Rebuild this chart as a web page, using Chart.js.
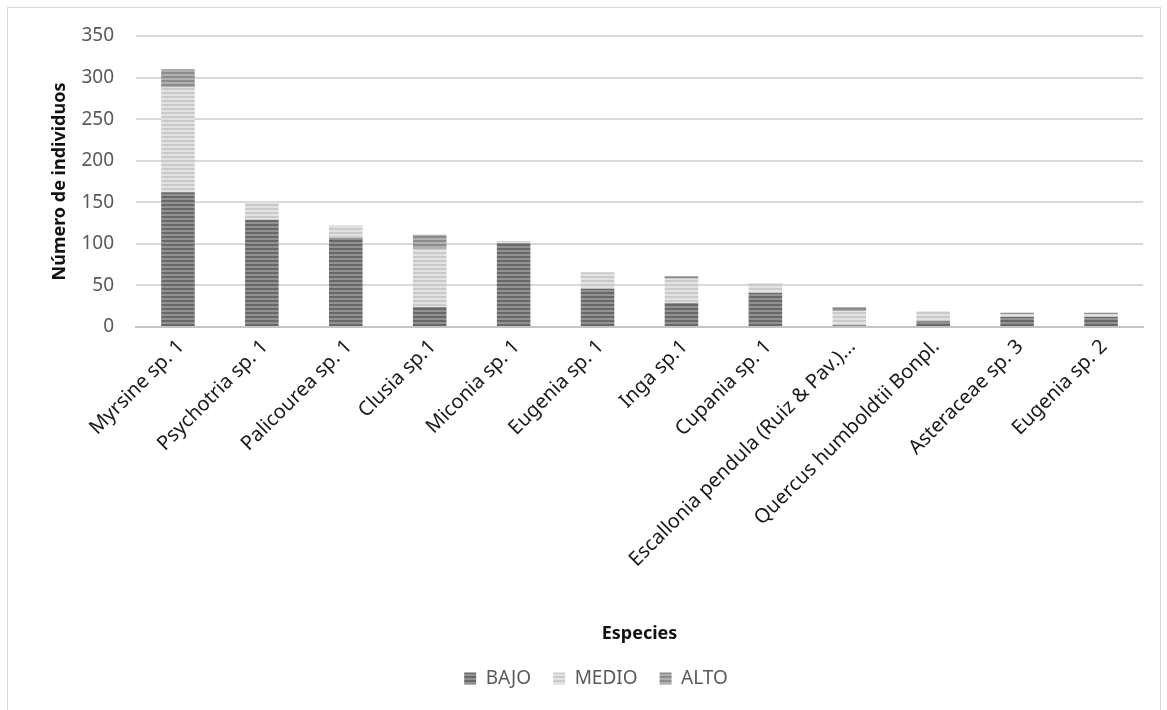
<!DOCTYPE html>
<html>
<head>
<meta charset="utf-8">
<script src="https://cdn.jsdelivr.net/npm/chart.js@4/dist/chart.umd.min.js"></script>
<style>
    html, body { margin: 0; padding: 0; background: #fff; overflow: hidden; }
    #frame { position: absolute; left: 7px; top: 7px; width: 1152px; height: 720px; border: 1px solid #d9d9d9; }
    #wrap { position: absolute; left: 0; top: 0; width: 1167px; height: 710px; }
</style>
</head>
<body>
<div id="frame"></div>
<div id="wrap"><canvas id="myChart" width="1167" height="710"></canvas></div>
<script>
// Species (x axis categories)
const categories = [
    "Myrsine sp. 1", "Psychotria sp. 1", "Palicourea sp. 1", "Clusia sp.1",
    "Miconia sp. 1", "Eugenia sp. 1", "Inga sp.1", "Cupania sp. 1",
    "Escallonia pendula (Ruiz & Pav.)...", "Quercus humboldtii Bonpl.",
    "Asteraceae sp. 3", "Eugenia sp. 2"
];
// Individuals per stratum
const bajo  = [162, 129, 107, 24, 101, 46, 29, 41, 2, 7, 12, 12];
const medio = [126, 21, 15, 70, 2, 20, 29, 12, 17, 12, 3, 3];
const alto  = [22, 0, 0, 17, 0, 0, 3, 0, 5, 0, 2, 2];
const seriesNames = ["BAJO", "MEDIO", "ALTO"];
const yTicks = [0, 50, 100, 150, 200, 250, 300, 350];

const FONT = "'Noto Sans', sans-serif";

// horizontal striped fill, like the original's pattern bars
function stripes(c1, c2) {
    const p = document.createElement("canvas");
    p.width = 4; p.height = 4;
    const g = p.getContext("2d");
    g.fillStyle = c1; g.fillRect(0, 0, 4, 4);
    g.fillStyle = c2; g.fillRect(0, 2, 4, 2);
    return g.createPattern(p, "repeat");
}
const fillBajo = stripes("#686868", "#929292");
const fillMedio = stripes("#cacaca", "#e2e2e2");
const fillAlto = stripes("#8c8c8c", "#b0b0b0");

const ctx = document.getElementById("myChart").getContext("2d");
const myChart = new Chart(ctx, {
    type: "bar",
    data: {
        labels: categories,
        datasets: [
            { label: seriesNames[0], data: bajo, backgroundColor: fillBajo },
            { label: seriesNames[1], data: medio, backgroundColor: fillMedio },
            { label: seriesNames[2], data: alto, backgroundColor: fillAlto }
        ]
    },
    options: {
        responsive: false,
        animation: false,
        devicePixelRatio: 1,
        layout: { padding: { left: 49, right: 24, top: 36, bottom: 12 } },
        datasets: { bar: { categoryPercentage: 1, barPercentage: 0.4, borderWidth: 0 } },
        plugins: {
            tooltip: { enabled: false },
            legend: {
                position: "bottom",
                labels: {
                    color: "#595959",
                    font: { family: FONT, size: 19 },
                    boxWidth: 12, boxHeight: 12,
                    padding: 22
                }
            }
        },
        scales: {
            x: {
                stacked: true,
                grid: { display: false, drawTicks: false },
                border: { color: "#c4c4c4", width: 2 },
                ticks: {
                    color: "#1a1a1a",
                    font: { family: FONT, size: 20 },
                    minRotation: 45, maxRotation: 45,
                    autoSkip: false, padding: 8, labelOffset: 3
                },
                title: {
                    display: true, text: "Especies", color: "#111",
                    font: { family: FONT, size: 18, weight: "bold" },
                    padding: { top: 0, bottom: 2 }
                },
                afterFit: function (scale) { scale.height = 320; }
            },
            y: {
                stacked: true,
                min: 0, max: 350,
                afterBuildTicks: function (scale) {
                    scale.ticks = yTicks.map(v => ({ value: v }));
                },
                grid: { color: "#d9d9d9", lineWidth: 2, drawTicks: false },
                border: { display: false },
                ticks: {
                    color: "#595959",
                    font: { family: FONT, size: 19 },
                    padding: 22
                },
                title: {
                    display: true, text: "Número de individuos", color: "#111",
                    font: { family: FONT, size: 18, weight: "bold" },
                    padding: 0
                },
                afterFit: function (scale) { scale.width = 87; }
            }
        }
    }
});
</script>
</body>
</html>
